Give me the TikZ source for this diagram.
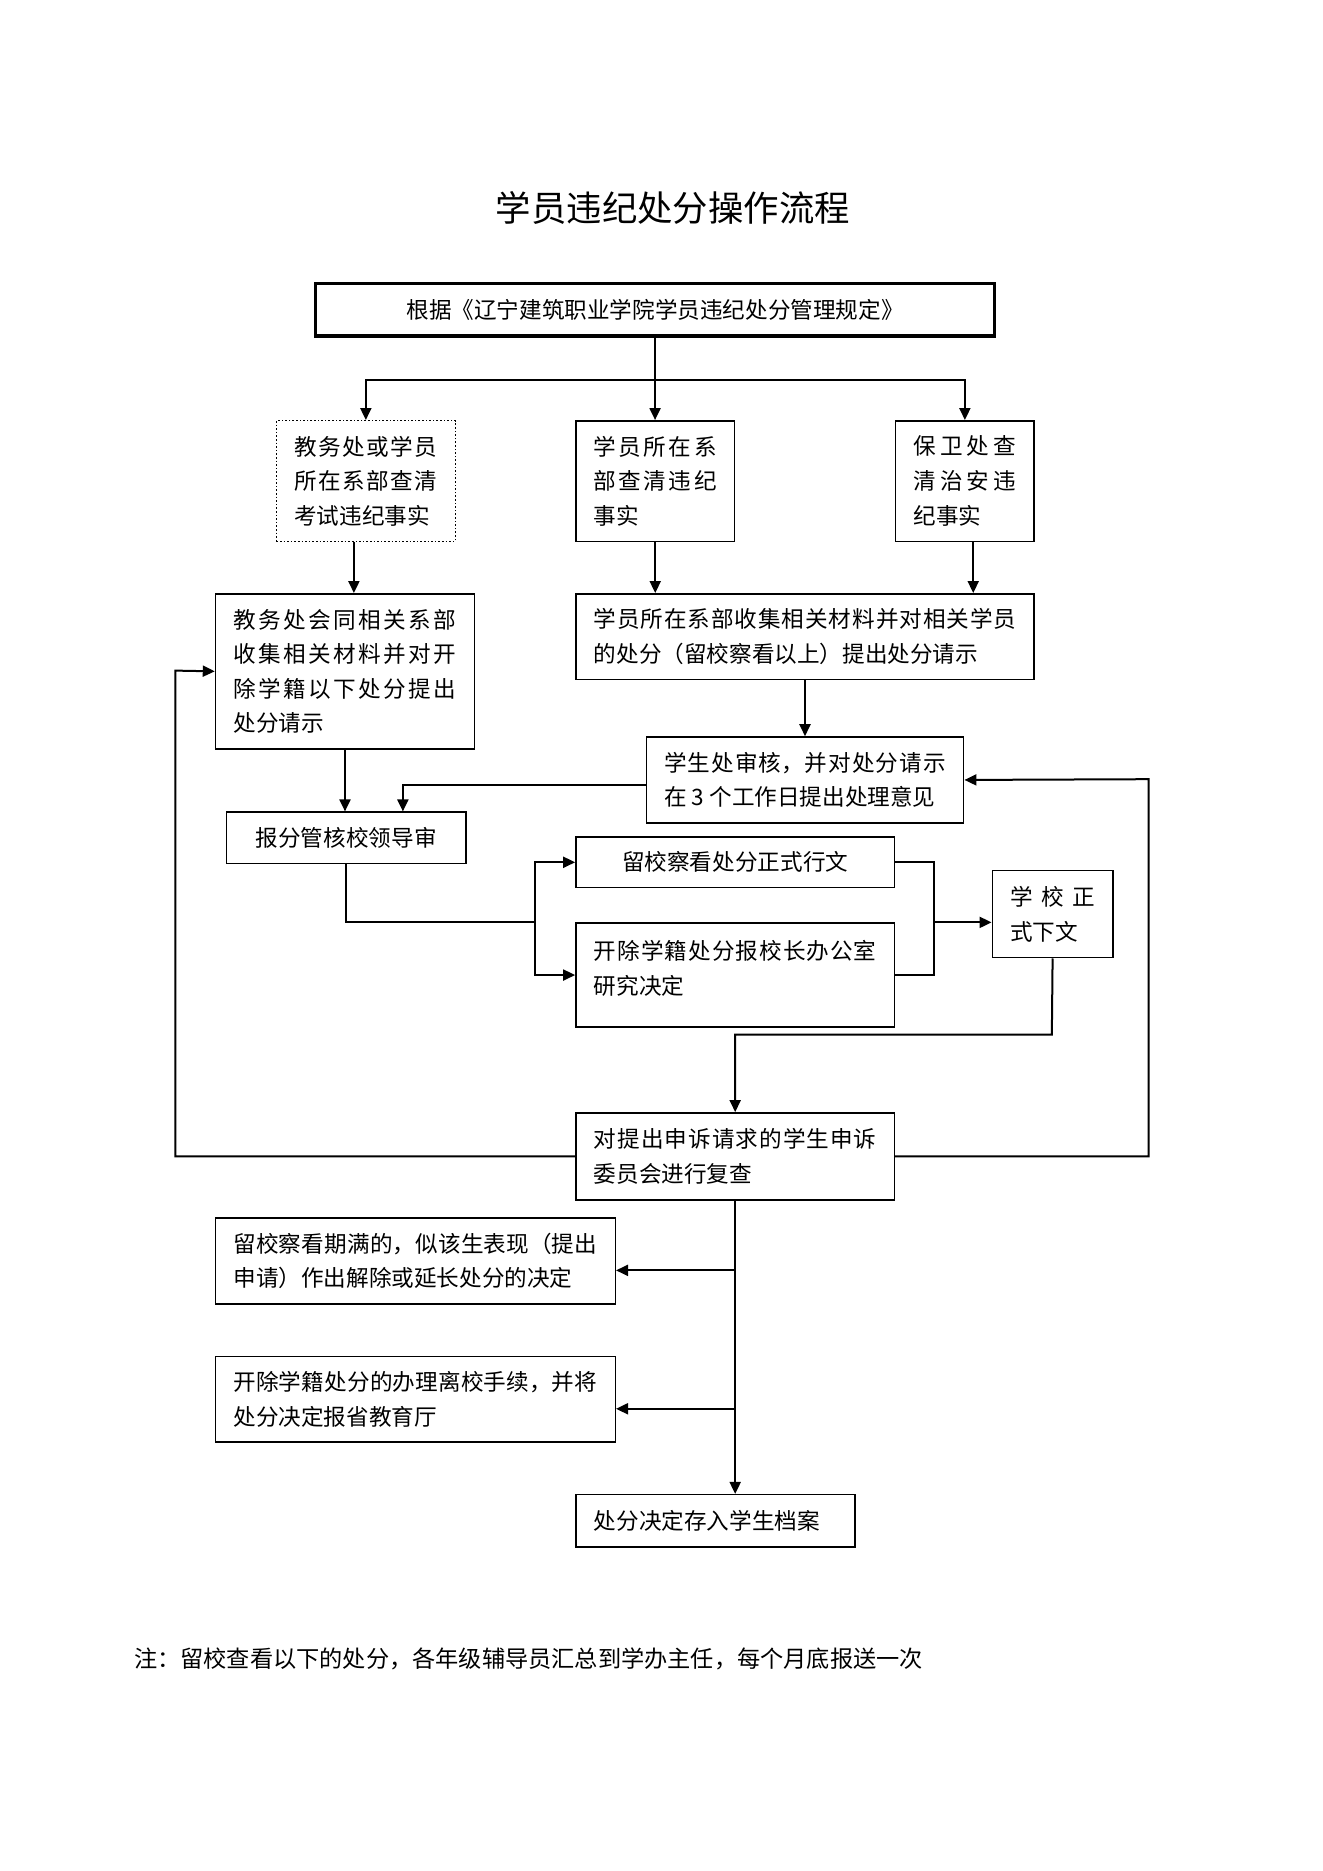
\documentclass[tikz,border=0pt]{standalone}
\usepackage{fontspec}
\newfontfamily\cjk{Noto Sans CJK SC}
\usetikzlibrary{arrows.meta,calc}
\XeTeXlinebreaklocale "zh"
\XeTeXlinebreakskip=0pt plus 3pt
\setlength{\parindent}{0pt}
\tolerance=10000
\hbadness=10000
\tikzset{
  bx/.style={draw, line width=0.75pt, anchor=north west, inner xsep=8.95pt, inner ysep=0pt,
    font=\cjk\fontsize{11.3}{17.3}\selectfont, align=justify},
  cbx/.style={draw, line width=0.75pt, anchor=north west, inner sep=0pt,
    font=\cjk\fontsize{11.3}{17.3}\selectfont, align=center},
  dotbox/.style={line width=0.7pt, dash pattern=on 0.8pt off 1pt},
  arr/.style={line width=1pt, -{Triangle[length=6pt,width=5.5pt]}},
  ln/.style={line width=1pt},
}
\begin{document}
\begin{tikzpicture}[x=0.59655pt, y=-0.59655pt]
\useasboundingbox (0,0) rectangle (1108,1568);

\node[font=\cjk\fontsize{17.7}{20}\selectfont] (title) at (564,174) {学员违纪处分操作流程};

\node[cbx, line width=1.8pt, minimum width=339.4pt, minimum height=26.25pt] (top) at (263,236) {根据《辽宁建筑职业学院学员违纪处分管理规定》};

\node[bx, dotbox, minimum width=89.48pt, minimum height=60.25pt, text width=71.59pt] (A) at (231,352) {教务处或学员\linebreak 所在系部查清\linebreak 考试违纪事实};
\node[bx, minimum width=79.34pt, minimum height=60.25pt, text width=61.44pt] (B) at (482,352) {学员所在系\linebreak 部查清违纪\linebreak 事实};
\node[bx, minimum width=69.2pt, minimum height=60.25pt, text width=51.3pt] (C) at (750,352) {保卫处查\linebreak 清治安违\linebreak 纪事实};

\node[bx, minimum width=129.45pt, minimum height=77.55pt, text width=111.55pt] (D) at (180,497) {教务处会同相关系部\linebreak 收集相关材料并对开\linebreak 除学籍以下处分提出\linebreak 处分请示};
\node[bx, minimum width=229.08pt, minimum height=42.95pt, text width=211.18pt] (E) at (482,497) {学员所在系部收集相关材料并对相关学员\linebreak 的处分（留校察看以上）提出处分请示};

\node[bx, minimum width=158.68pt, minimum height=42.95pt, text width=140.79pt] (F) at (541,617) {学生处审核，并对处分请示\linebreak 在 3 个工作日提出处理意见};

\node[cbx, minimum width=119.91pt, minimum height=25.65pt] (G) at (189,680) {报分管核校领导审};
\node[cbx, minimum width=159.28pt, minimum height=25.06pt] (H) at (482,701) {留校察看处分正式行文};
\node[bx, minimum width=159.28pt, minimum height=51.9pt, text width=141.38pt] (I) at (482,773) {开除学籍处分报校长办公室\linebreak 研究决定\par\vskip-9.8pt\hbox{}};
\node[bx, minimum width=60.25pt, minimum height=43.55pt, text width=42.36pt] (J) at (831,729) {学 校 正\linebreak 式下文};

\node[bx, minimum width=159.28pt, minimum height=43.55pt, text width=141.38pt] (K) at (482,932) {对提出申诉请求的学生申诉\linebreak 委员会进行复查};

\node[bx, minimum width=199.84pt, minimum height=42.95pt, text width=181.95pt] (M) at (180,1020) {留校察看期满的，似该生表现（提出\linebreak 申请）作出解除或延长处分的决定};
\node[bx, minimum width=199.84pt, minimum height=42.95pt, text width=181.95pt] (N) at (180,1136) {开除学籍处分的办理离校手续，并将\linebreak 处分决定报省教育厅};
\node[bx, minimum width=139.59pt, minimum height=26.25pt, text width=121.7pt, align=left] (L) at (482,1252) {处分决定存入学生档案};

\node[anchor=west, inner sep=0pt, font=\cjk\fontsize{11.6}{14}\selectfont] (note) at (112,1390) {注：留校查看以下的处分，各年级辅导员汇总到学办主任，每个月底报送一次};

% connectors
\coordinate (bus) at (547.5,318.5);
\draw[arr] (top.south) -- (top.south |- B.north);
\draw[arr] (bus) -| (A.north);
\draw[arr] (bus) -| (C.north);

\coordinate (Ao) at ($(A.south)+(-10,0)$);
\draw[arr] (Ao) -- (Ao |- D.north);
\draw[arr] (B.south) -- (B.south |- E.north);
\coordinate (Co) at ($(C.south)+(7,0)$);
\draw[arr] (Co) -- (Co |- E.north);

\draw[arr] (E.south) -- (E.south |- F.north);
\draw[arr] (D.south) -- (D.south |- G.north);
\coordinate (Fo) at ($(F.west)+(0,4)$);
\coordinate (Gi) at ($(G.north)+(47.5,0)$);
\draw[arr] (Fo) -| (Gi);

\coordinate (jn) at (448,773);
\draw[ln] (G.south) |- (jn);
\draw[arr] (jn) |- (H.west);
\draw[arr] (jn) |- (I.west);

\coordinate (jr) at (782.5,773);
\draw[ln] (H.east) -| (jr) |- (I.east);
\draw[arr] (jr) -- (jr -| J.west);

\coordinate (ja) at (881.5,867);
\draw[arr] (J.south) -- (ja) -| (K.north);

\coordinate (lb) at (147,562);
\draw[arr] (K.west) -| (lb) -- (D.west);
\coordinate (rb) at (962.5,653);
\draw[arr] (K.east) -| (rb) -- (F.east);

\draw[arr] (K.south) -- (K.south |- L.north);
\coordinate (Mj) at ($(K.south |- M.east)+(0,8)$);
\draw[arr] (Mj) -- (Mj -| M.east);
\coordinate (Nj) at ($(K.south |- N.east)+(0,8)$);
\draw[arr] (Nj) -- (Nj -| N.east);
\end{tikzpicture}
\end{document}
